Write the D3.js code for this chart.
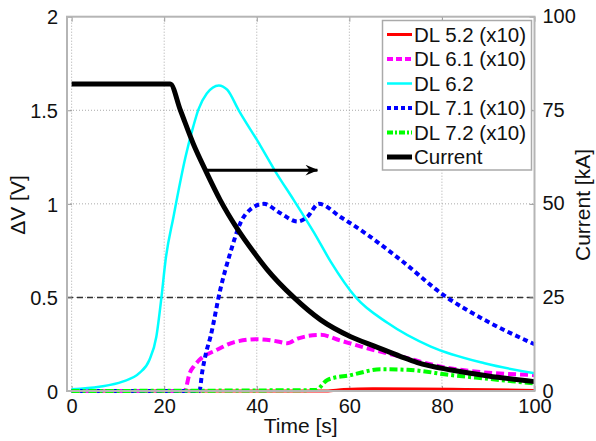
<!DOCTYPE html>
<html>
<head>
<meta charset="utf-8">
<script src="https://cdn.jsdelivr.net/npm/d3@7"></script>
<style>
  body { margin: 0; background: #fff; }
  svg { font-family: "Liberation Sans", Arial, sans-serif; }
</style>
</head>
<body>
<div id="chart"></div>
<script>
// values
let dl52Time = [0, 55, 58.8, 65, 75, 85, 100];
let dl52Volt = [0, 0, 0.008, 0.012, 0.011, 0.008, 0.003];

let dl61Time = [0, 24.4, 25.5, 26.5, 27.6, 31.4, 35, 40, 44.5, 46.6, 48.8, 53.8, 58, 63.9, 71.1, 82, 100];
let dl61Volt = [0, 0, 0.095, 0.135, 0.166, 0.22, 0.26, 0.277, 0.265, 0.255, 0.28, 0.30, 0.27, 0.228, 0.184, 0.12, 0.085];

let dl62Time = [0, 6, 11, 14.6, 16.8, 18.3, 19.4, 20.3, 22, 24.6, 26.3, 27.4, 29.2, 31.8, 33.6, 36.1, 40.8, 44.1, 48, 52.4, 56, 61.4, 68.3, 77.6, 89.2, 100];
let dl62Volt = [0.01, 0.023, 0.05, 0.095, 0.166, 0.29, 0.5, 0.7, 0.93, 1.25, 1.415, 1.505, 1.59, 1.633, 1.61, 1.5, 1.31, 1.17, 1.02, 0.845, 0.69, 0.5, 0.363, 0.237, 0.148, 0.095];

let dl71Time = [0, 27.6, 28.2, 29, 30, 32.1, 34.3, 36.5, 38.6, 41.5, 45.1, 48.8, 50.9, 53.4, 58.1, 63.9, 71.1, 80.5, 89.2, 100];
let dl71Volt = [0, 0, 0.1, 0.2, 0.29, 0.54, 0.74, 0.9, 0.97, 1.0, 0.95, 0.905, 0.93, 1.0, 0.93, 0.835, 0.70, 0.51, 0.38, 0.25];

let dl72Time = [0, 52.7, 55.3, 60.3, 66.8, 72.6, 82, 90, 100];
let dl72Volt = [0, 0.005, 0.06, 0.085, 0.116, 0.113, 0.085, 0.065, 0.04];

let currentTime = [0, 21.3, 23.5, 26.3, 28.9, 32.1, 35.7, 40, 42.2, 48, 53.8, 60.3, 65.4, 71.1, 74.7, 82, 90, 100];
let currentKA = [82, 82, 75, 66, 59, 51, 43.5, 36, 32.5, 25, 19, 14.5, 12, 9.2, 7.6, 5.6, 4, 2.5];

let xTicks = [0, 20, 40, 60, 80, 100];
let yTicks = [0, 0.5, 1, 1.5, 2];
let y2Ticks = [0, 25, 50, 75, 100];
let thresholdVolt = 0.5;
let arrowFrom = [28.9, 1.18];
let arrowTo = [53.1, 1.18];

let legendNames = ['DL 5.2 (x10)', 'DL 6.1 (x10)', 'DL 6.2', 'DL 7.1 (x10)', 'DL 7.2 (x10)', 'Current'];

var width = 596,
    height = 441,
    plotLeft = 67,
    plotRight = 534.5,
    plotTop = 16.7,
    plotBottom = 391;

var x = d3.scaleLinear().domain([-1, 100]).range([plotLeft, plotRight]);
var y = d3.scaleLinear().domain([0, 2]).range([plotBottom, plotTop]);
var y2 = d3.scaleLinear().domain([0, 100]).range([plotBottom, plotTop]);

var svg = d3.select('#chart').append('svg')
    .attr('width', width)
    .attr('height', height);

// grid
var grid = svg.append('g')
    .attr('stroke', '#aaa')
    .attr('stroke-width', 1)
    .attr('stroke-dasharray', '1,2');
grid.selectAll('line.gx')
    .data(xTicks.filter(d => d < 100))
    .enter().append('line')
    .attr('x1', d => x(d)).attr('x2', d => x(d))
    .attr('y1', plotTop).attr('y2', plotBottom);
grid.selectAll('line.gy')
    .data(yTicks.filter(d => d > 0 && d < 2))
    .enter().append('line')
    .attr('x1', plotLeft).attr('x2', plotRight)
    .attr('y1', d => y(d)).attr('y2', d => y(d));

// threshold
svg.append('line')
    .attr('x1', plotLeft).attr('x2', plotRight)
    .attr('y1', y(thresholdVolt)).attr('y2', y(thresholdVolt))
    .attr('stroke', '#333')
    .attr('stroke-width', 1.4)
    .attr('stroke-dasharray', '6,4');

// axes
var tickLen = 5;
var axBottom = d3.axisBottom(x).tickValues(xTicks).tickSize(-tickLen).tickPadding(8);
var axTop = d3.axisTop(x).tickValues(xTicks).tickSize(-tickLen).tickFormat('');
var axLeft = d3.axisLeft(y).tickValues(yTicks).tickSize(-tickLen).tickPadding(9).tickFormat(d3.format('~g'));
var axRight = d3.axisRight(y2).tickValues(y2Ticks).tickSize(-tickLen).tickPadding(8);

function styleAxis(g) {
    g.select('.domain').remove();
    g.selectAll('.tick line').attr('stroke', '#999').attr('stroke-width', 1);
    g.selectAll('.tick text').attr('fill', '#111').style('font-size', '20px');
}

svg.append('g').attr('transform', `translate(0,${plotBottom})`).call(axBottom).call(styleAxis);
svg.append('g').attr('transform', `translate(0,${plotTop})`).call(axTop).call(styleAxis);
svg.append('g').attr('transform', `translate(${plotLeft},0)`).call(axLeft).call(styleAxis)
    .selectAll('.tick text').attr('dy', '0.36em');
svg.append('g').attr('transform', `translate(${plotRight},0)`).call(axRight).call(styleAxis)
    .selectAll('.tick text').attr('dy', '0.3em');

// lines
var line = d3.line().curve(d3.curveMonotoneX);

var series = [
    { t: dl52Time, v: dl52Volt, scale: y, color: '#ff0000', w: 3, dash: null, key: null },
    { t: dl61Time, v: dl61Volt, scale: y, color: '#ff00ff', w: 4, dash: '8,4', key: '6,3' },
    { t: dl62Time, v: dl62Volt, scale: y, color: '#00ffff', w: 2.5, dash: null, key: null },
    { t: dl71Time, v: dl71Volt, scale: y, color: '#0000ff', w: 4, dash: '5,3.5', key: '4,3' },
    { t: dl72Time, v: dl72Volt, scale: y, color: '#00ff00', w: 4, dash: '8,3,3,3', key: '6,2,2,2' },
    { t: currentTime, v: currentKA, scale: y2, color: '#000000', w: 5, dash: null, key: null }
];

svg.selectAll('path.series')
    .data(series)
    .enter().append('path')
    .attr('class', 'series')
    .attr('fill', 'none')
    .attr('stroke', d => d.color)
    .attr('stroke-width', d => d.w)
    .attr('stroke-dasharray', d => d.dash)
    .attr('d', d => line(d.t.map((t, i) => [x(t), d.scale(d.v[i])])));

// arrow
svg.append('defs').append('marker')
    .attr('id', 'head')
    .attr('viewBox', '0 0 12 10')
    .attr('refX', 11)
    .attr('refY', 5)
    .attr('markerWidth', 13)
    .attr('markerHeight', 11)
    .attr('markerUnits', 'userSpaceOnUse')
    .attr('orient', 'auto')
    .append('path')
    .attr('d', 'M0,0 L12,5 L0,10 L4,5 Z')
    .attr('fill', '#000');

svg.append('line')
    .attr('x1', x(arrowFrom[0])).attr('y1', y(arrowFrom[1]))
    .attr('x2', x(arrowTo[0])).attr('y2', y(arrowTo[1]))
    .attr('stroke', '#000')
    .attr('stroke-width', 3)
    .attr('marker-end', 'url(#head)');

// frame
svg.append('rect')
    .attr('x', plotLeft).attr('y', plotTop)
    .attr('width', plotRight - plotLeft).attr('height', plotBottom - plotTop)
    .attr('fill', 'none')
    .attr('stroke', '#b5b5b5')
    .attr('stroke-width', 2);

// axis labels
svg.append('text')
    .attr('x', (plotLeft + plotRight) / 2).attr('y', 433)
    .attr('text-anchor', 'middle')
    .style('font-size', '21px')
    .attr('fill', '#111')
    .text('Time [s]');

svg.append('text')
    .attr('transform', 'translate(25,205) rotate(-90)')
    .attr('text-anchor', 'middle')
    .style('font-size', '21px')
    .attr('fill', '#111')
    .text('ΔV [V]');

svg.append('text')
    .attr('transform', 'translate(590,205) rotate(-90)')
    .attr('text-anchor', 'middle')
    .style('font-size', '21px')
    .attr('fill', '#111')
    .text('Current [kA]');

// legend
var legend = svg.append('g');
legend.append('rect')
    .attr('x', 382.5).attr('y', 20.5)
    .attr('width', 149).attr('height', 149.5)
    .attr('fill', '#fff')
    .attr('stroke', '#aaa')
    .attr('stroke-width', 1.5);

var rows = legend.selectAll('g.row')
    .data(series)
    .enter().append('g')
    .attr('transform', (d, i) => `translate(0,${34.5 + i * 24.5})`);

rows.append('line')
    .attr('x1', 387).attr('x2', 412)
    .attr('stroke', d => d.color)
    .attr('stroke-width', d => d.w)
    .attr('stroke-dasharray', d => d.key);

rows.append('text')
    .attr('x', 414)
    .attr('dy', '0.36em')
    .style('font-size', '20.5px')
    .attr('fill', '#111')
    .text((d, i) => legendNames[i]);
</script>
</body>
</html>
